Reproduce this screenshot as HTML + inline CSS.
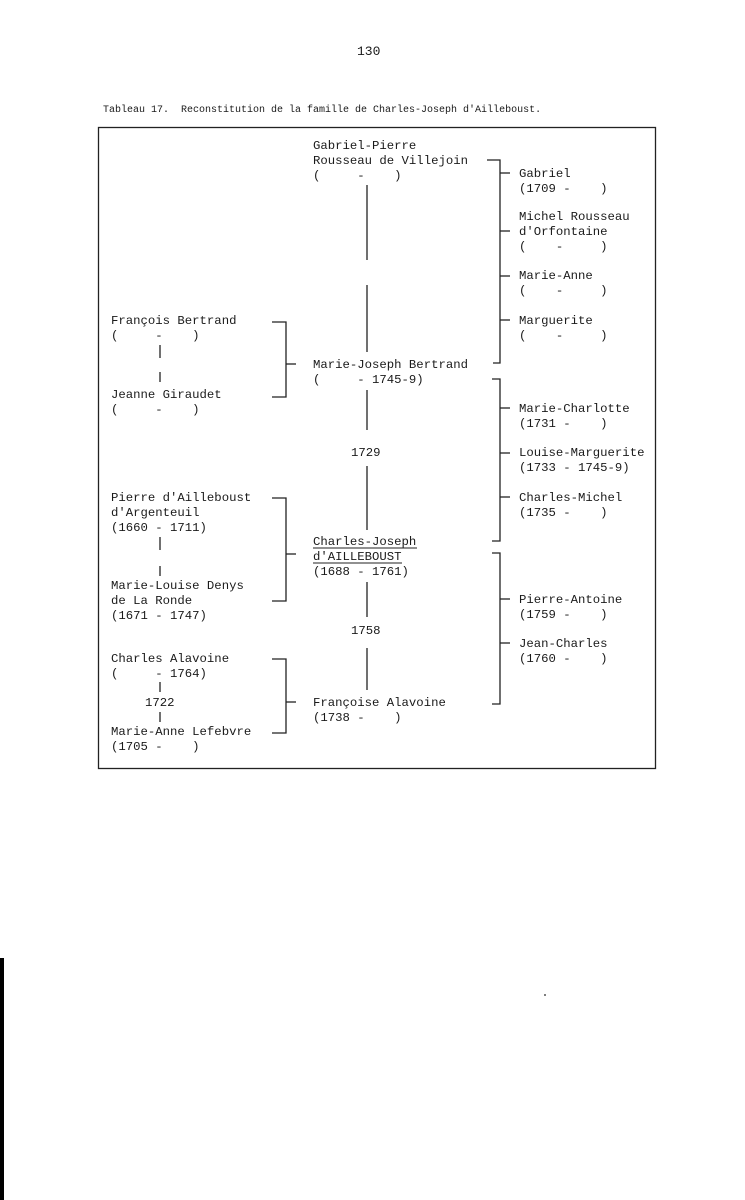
<!DOCTYPE html>
<html><head><meta charset="utf-8"><style>
html,body{margin:0;padding:0;background:#fff;}
svg{display:block}
text{font-family:"Liberation Mono",monospace;fill:#1a1a1a;white-space:pre;}
.t{font-size:12.3px}
</style></head><body>
<svg width="745" height="1200" viewBox="0 0 745 1200">
<rect x="0" y="958" width="4" height="242" fill="#000"/>
<circle cx="545" cy="995" r="1" fill="#555"/>
<text x="357" y="55" style="font-size:13px">130</text>
<text x="103" y="112" style="font-size:10px">Tableau 17.  Reconstitution de la famille de Charles-Joseph d'Ailleboust.</text>
<rect x="98.5" y="127.5" width="557" height="641" fill="none" stroke="#222" stroke-width="1.3"/>
<g stroke="#222" stroke-width="1.3" fill="none">
<line x1="367" y1="185" x2="367" y2="260"/>
<line x1="367" y1="285" x2="367" y2="352"/>
<line x1="367" y1="390" x2="367" y2="430"/>
<line x1="367" y1="466" x2="367" y2="530"/>
<line x1="367" y1="582" x2="367" y2="617"/>
<line x1="367" y1="648" x2="367" y2="690"/>
<polyline points="487,160 500,160 500,363 493,363"/>
<line x1="500" y1="173" x2="510" y2="173"/>
<line x1="500" y1="231" x2="510" y2="231"/>
<line x1="500" y1="276" x2="510" y2="276"/>
<line x1="500" y1="320" x2="510" y2="320"/>
<polyline points="492,379 500,379 500,541 492,541"/>
<line x1="500" y1="408" x2="510" y2="408"/>
<line x1="500" y1="453" x2="510" y2="453"/>
<line x1="500" y1="497" x2="510" y2="497"/>
<polyline points="492,553 500,553 500,704 492,704"/>
<line x1="500" y1="599" x2="510" y2="599"/>
<line x1="500" y1="643" x2="510" y2="643"/>
<polyline points="272,322 286,322 286,397 272,397"/>
<line x1="286" y1="364" x2="296" y2="364"/>
<polyline points="272,498 286,498 286,601 272,601"/>
<line x1="286" y1="554" x2="296" y2="554"/>
<polyline points="272,659 286,659 286,733 272,733"/>
<line x1="286" y1="702" x2="296" y2="702"/>
<line x1="160" y1="345" x2="160" y2="358"/>
<line x1="160" y1="372" x2="160" y2="382"/>
<line x1="160" y1="537" x2="160" y2="550"/>
<line x1="160" y1="566" x2="160" y2="576"/>
<line x1="160" y1="682" x2="160" y2="692"/>
<line x1="160" y1="712" x2="160" y2="722"/>
<line x1="313" y1="548" x2="417" y2="548" stroke-width="1"/>
<line x1="313" y1="563" x2="402" y2="563" stroke-width="1"/>
</g>
<g class="t">
<text x="313" y="149">Gabriel-Pierre</text>
<text x="313" y="164">Rousseau de Villejoin</text>
<text x="313" y="179">(     -    )</text>
<text x="313" y="368">Marie-Joseph Bertrand</text>
<text x="313" y="383">(     - 1745-9)</text>
<text x="351" y="456">1729</text>
<text x="313" y="545">Charles-Joseph</text>
<text x="313" y="560">d'AILLEBOUST</text>
<text x="313" y="575">(1688 - 1761)</text>
<text x="351" y="634">1758</text>
<text x="313" y="706">Françoise Alavoine</text>
<text x="313" y="721">(1738 -    )</text>

<text x="519" y="177">Gabriel</text>
<text x="519" y="192">(1709 -    )</text>
<text x="519" y="220">Michel Rousseau</text>
<text x="519" y="235">d'Orfontaine</text>
<text x="519" y="250">(    -     )</text>
<text x="519" y="279">Marie-Anne</text>
<text x="519" y="294">(    -     )</text>
<text x="519" y="324">Marguerite</text>
<text x="519" y="339">(    -     )</text>
<text x="519" y="412">Marie-Charlotte</text>
<text x="519" y="427">(1731 -    )</text>
<text x="519" y="456">Louise-Marguerite</text>
<text x="519" y="471">(1733 - 1745-9)</text>
<text x="519" y="501">Charles-Michel</text>
<text x="519" y="516">(1735 -    )</text>
<text x="519" y="603">Pierre-Antoine</text>
<text x="519" y="618">(1759 -    )</text>
<text x="519" y="647">Jean-Charles</text>
<text x="519" y="662">(1760 -    )</text>

<text x="111" y="324">François Bertrand</text>
<text x="111" y="339">(     -    )</text>
<text x="111" y="398">Jeanne Giraudet</text>
<text x="111" y="413">(     -    )</text>
<text x="111" y="501">Pierre d'Ailleboust</text>
<text x="111" y="516">d'Argenteuil</text>
<text x="111" y="531">(1660 - 1711)</text>
<text x="111" y="589">Marie-Louise Denys</text>
<text x="111" y="604">de La Ronde</text>
<text x="111" y="619">(1671 - 1747)</text>
<text x="111" y="662">Charles Alavoine</text>
<text x="111" y="677">(     - 1764)</text>
<text x="145" y="706">1722</text>
<text x="111" y="735">Marie-Anne Lefebvre</text>
<text x="111" y="750">(1705 -    )</text>
</g>
</svg>
</body></html>
